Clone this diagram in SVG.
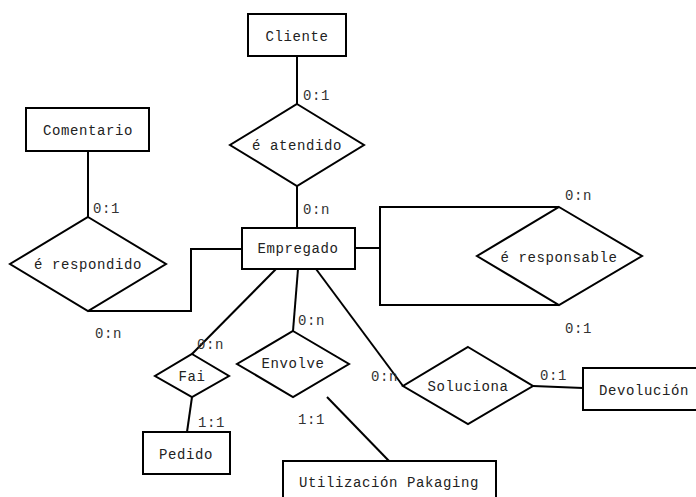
<svg xmlns="http://www.w3.org/2000/svg" width="696" height="497" viewBox="0 0 696 497">
  <style>
    .shape { fill: #ffffff; stroke: #000000; stroke-width: 2; }
    .link { fill: none; stroke: #000000; stroke-width: 2; }
    .name { font-family: "Liberation Mono", "DejaVu Sans Mono", monospace; font-size: 14px; letter-spacing: 0.6px; fill: #222222; text-anchor: middle; }
    .card { font-family: "Liberation Mono", "DejaVu Sans Mono", monospace; font-size: 14px; letter-spacing: 0.6px; fill: #333333; }
  </style>
  <rect width="696" height="497" fill="#ffffff"/>

  <!-- connectors -->
  <g id="connectors">
    <line class="link" x1="297" y1="56" x2="297" y2="104"/>
    <line class="link" x1="297" y1="186" x2="297" y2="228"/>
    <line class="link" x1="88" y1="151" x2="88" y2="217"/>
    <polyline class="link" points="88,311 191,311 191,249 242,249"/>
    <polyline class="link" points="355,248 380,248"/>
    <polyline class="link" points="559,207 380,207 380,305 559,305"/>
    <line class="link" x1="276" y1="269" x2="192" y2="354"/>
    <line class="link" x1="192" y1="397" x2="187" y2="432"/>
    <line class="link" x1="298" y1="269" x2="293" y2="331"/>
    <line class="link" x1="327" y1="397" x2="389" y2="461"/>
    <line class="link" x1="316" y1="269" x2="403" y2="386"/>
    <line class="link" x1="533" y1="386" x2="583" y2="388"/>

    <!-- cardinalities -->
    <text class="card" x="303" y="100">0:1</text>
    <text class="card" x="303" y="214">0:n</text>
    <text class="card" x="93" y="213">0:1</text>
    <text class="card" x="95" y="338">0:n</text>
    <text class="card" x="565" y="200">0:n</text>
    <text class="card" x="565" y="333">0:1</text>
    <text class="card" x="197" y="349">0:n</text>
    <text class="card" x="198" y="427">1:1</text>
    <text class="card" x="298" y="325">0:n</text>
    <text class="card" x="298" y="424">1:1</text>
    <text class="card" x="371" y="381">0:n</text>
    <text class="card" x="540" y="380">0:1</text>
  </g>

  <!-- entities -->
  <g id="cliente">
    <rect class="shape" x="248" y="14" width="98" height="42"/>
    <text class="name" x="297" y="41">Cliente</text>
  </g>
  <g id="comentario">
    <rect class="shape" x="26" y="108" width="123" height="43"/>
    <text class="name" x="88" y="135">Comentario</text>
  </g>
  <g id="empregado">
    <rect class="shape" x="242" y="228" width="113" height="41"/>
    <text class="name" x="298" y="253">Empregado</text>
  </g>
  <g id="pedido">
    <rect class="shape" x="143" y="432" width="87" height="42"/>
    <text class="name" x="186" y="459">Pedido</text>
  </g>
  <g id="utilizacion-pakaging">
    <rect class="shape" x="283" y="461" width="213" height="50"/>
    <text class="name" x="389" y="487">Utilización Pakaging</text>
  </g>
  <g id="devolucion">
    <rect class="shape" x="583" y="368" width="125" height="42"/>
    <text class="name" x="644" y="395">Devolución</text>
  </g>

  <!-- relationships -->
  <g id="e-atendido">
    <polygon class="shape" points="297,104 364,145 297,186 230,145"/>
    <text class="name" x="297" y="150">é atendido</text>
  </g>
  <g id="e-respondido">
    <polygon class="shape" points="88,217 166,264 88,311 10,264"/>
    <text class="name" x="88" y="269">é respondido</text>
  </g>
  <g id="e-responsable">
    <polygon class="shape" points="559,207 642,256 559,305 477,256"/>
    <text class="name" x="559" y="262">é responsable</text>
  </g>
  <g id="fai">
    <polygon class="shape" points="192,354 229,376 192,397 155,376"/>
    <text class="name" x="192" y="381">Fai</text>
  </g>
  <g id="envolve">
    <polygon class="shape" points="293,331 349,364 293,397 237,364"/>
    <text class="name" x="293" y="368">Envolve</text>
  </g>
  <g id="soluciona">
    <polygon class="shape" points="468,347 533,386 468,424 403,386"/>
    <text class="name" x="468" y="391">Soluciona</text>
  </g>
</svg>
